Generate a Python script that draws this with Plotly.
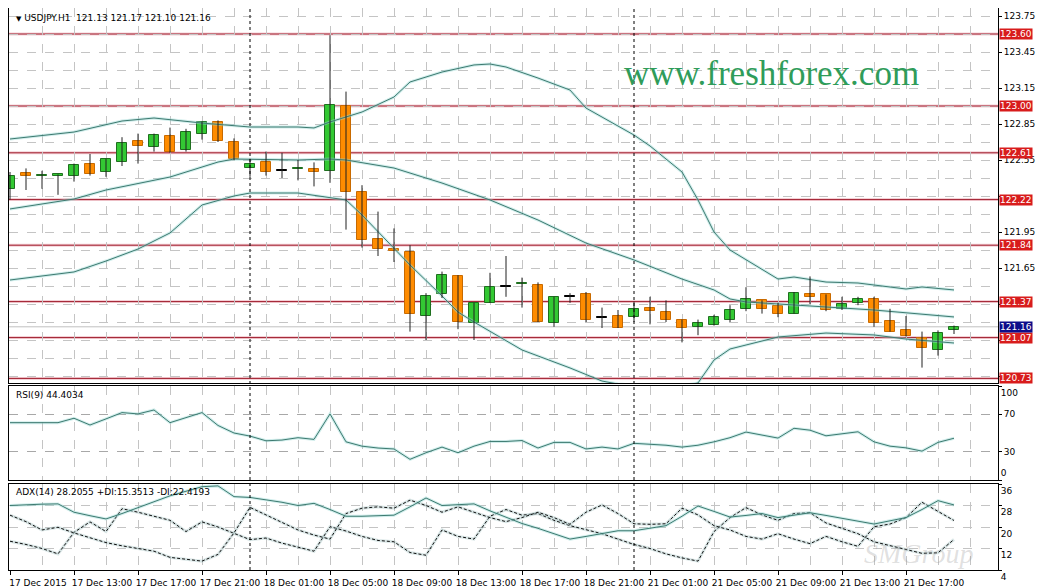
import plotly.graph_objects as go

# ---------------- data ----------------
day_spans = [("17 Dec", 9, 23), ("18 Dec", 0, 23), ("21 Dec", 0, 20)]
year_label = "17 Dec 2015"

opens = [122.31, 122.44, 122.415, 122.415, 122.42, 122.52, 122.45, 122.53, 122.71, 122.66,
         122.75, 122.63, 122.77, 122.87, 122.70, 122.48, 122.53, 122.46, 122.475, 122.475,
         122.46, 123.00, 122.28, 121.89, 121.81, 121.78, 121.25, 121.43, 121.58, 121.19,
         121.36, 121.49, 121.515, 121.51, 121.19, 121.41, 121.43, 121.235, 121.25, 121.24,
         121.32, 121.28, 121.22, 121.16, 121.175, 121.22, 121.31, 121.38, 121.33, 121.27,
         121.43, 121.43, 121.31, 121.36, 121.39, 121.21, 121.13, 121.07, 120.97, 121.13]
highs = [122.45, 122.48, 122.46, 122.43, 122.52, 122.60, 122.56, 122.74, 122.77, 122.77,
         122.82, 122.81, 122.87, 122.88, 122.73, 122.56, 122.62, 122.61, 122.55, 122.53,
         123.59, 123.12, 122.34, 122.12, 121.98, 121.84, 121.44, 121.62, 121.59, 121.36,
         121.61, 121.75, 121.57, 121.53, 121.41, 121.44, 121.45, 121.32, 121.30, 121.37,
         121.41, 121.38, 121.22, 121.22, 121.26, 121.34, 121.49, 121.38, 121.36, 121.45,
         121.58, 121.43, 121.41, 121.41, 121.41, 121.31, 121.25, 121.12, 121.13, 121.17]
lows = [122.22, 122.30, 122.31, 122.26, 122.37, 122.42, 122.41, 122.50, 122.52, 122.62,
        122.61, 122.62, 122.72, 122.70, 122.55, 122.41, 122.42, 122.40, 122.38, 122.33,
        122.36, 121.97, 121.82, 121.75, 121.70, 121.12, 121.05, 121.40, 121.14, 121.05,
        121.36, 121.41, 121.32, 121.20, 121.16, 121.36, 121.20, 121.15, 121.15, 121.20,
        121.18, 121.20, 121.03, 121.09, 121.17, 121.20, 121.29, 121.27, 121.24, 121.27,
        121.35, 121.29, 121.30, 121.34, 121.16, 121.12, 121.08, 120.82, 120.92, 121.10]
closes = [122.42, 122.42, 122.42, 122.43, 122.51, 122.43, 122.56, 122.69, 122.67, 122.76,
          122.62, 122.78, 122.87, 122.71, 122.56, 122.52, 122.45, 122.46, 122.48, 122.45,
          123.01, 122.28, 121.88, 121.81, 121.79, 121.27, 121.42, 121.59, 121.20, 121.36,
          121.49, 121.49, 121.52, 121.20, 121.41, 121.41, 121.22, 121.235, 121.15, 121.31,
          121.29, 121.22, 121.15, 121.19, 121.24, 121.30, 121.39, 121.31, 121.27, 121.44,
          121.41, 121.30, 121.35, 121.39, 121.19, 121.12, 121.08, 120.98, 121.11, 121.16]

# Bollinger band vertices (candle index, price)
bb_upper_idx = [0, 4, 7, 9, 12, 14, 15, 18, 19, 20, 21, 22, 24, 25, 27, 29, 30, 31, 33, 35,
                36, 39, 40, 42, 43, 44, 45, 48, 49, 51, 53, 56, 57, 59]
bb_upper = [122.725, 122.783, 122.875, 122.90, 122.858, 122.833, 122.825, 122.825, 122.817,
            122.867, 122.908, 122.95, 123.075, 123.20, 123.283, 123.342, 123.35, 123.325,
            123.233, 123.133, 122.983, 122.758, 122.667, 122.45, 122.217, 121.95, 121.80,
            121.558, 121.575, 121.533, 121.525, 121.475, 121.492, 121.467]
bb_mid_idx = [0, 4, 6, 10, 13, 14, 18, 20, 21, 24, 27, 30, 33, 36, 39, 42, 44, 45, 46, 54, 59]
bb_mid = [122.142, 122.225, 122.30, 122.408, 122.533, 122.558, 122.55, 122.558, 122.55,
          122.483, 122.358, 122.217, 122.05, 121.858, 121.717, 121.558, 121.467, 121.392,
          121.367, 121.30, 121.242]
bb_lower_idx = [0, 4, 6, 8, 10, 12, 14, 15, 18, 20, 21, 22, 25, 27, 28, 29, 32, 35, 37, 38,
                40, 42, 43, 44, 45, 48, 51, 54, 56, 59]
bb_lower = [121.55, 121.617, 121.708, 121.808, 121.942, 122.175, 122.25, 122.275, 122.275,
            122.233, 122.217, 122.092, 121.675, 121.417, 121.283, 121.20, 120.967, 120.817,
            120.708, 120.683, 120.667, 120.667, 120.692, 120.883, 120.975, 121.075, 121.108,
            121.092, 121.058, 121.025]

rsi = [61, 61, 61, 61, 65.7, 58.5, 65.0, 71.7, 70.3, 74.5,
       61.0, 66.0, 71.7, 58.0, 50.0, 46.7, 41.7, 42.5, 45.0, 43.2,
       70.3, 40.6, 36.0, 34.0, 33.0, 22.0, 29.0, 35.0, 29.0, 36.0,
       41.0, 41.0, 42.0, 34.0, 40.0, 40.0, 33.0, 35.0, 33.0, 39.0,
       38.0, 37.0, 35.0, 37.0, 40.6, 45.0, 51.0, 48.0, 44.6, 55.0,
       53.0, 47.0, 49.0, 51.3, 40.6, 36.0, 34.2, 30.7, 40.0, 44.4034]
adx = [28.0, 28.3, 28.5, 28.6, 25.5, 24.2, 23.0, 25.0, 27.2, 29.4,
       31.6, 33.3, 35.0, 35.3, 31.3, 31.0, 30.2, 29.2, 28.0, 28.8,
       26.5, 24.0, 24.0, 24.2, 24.4, 27.5, 30.8, 28.0, 28.3, 28.6,
       26.0, 23.5, 21.3, 19.5, 17.5, 15.5, 16.5, 17.5, 18.6, 18.6,
       19.5, 20.5, 24.0, 27.8, 25.8, 23.7, 24.3, 25.0, 23.5, 24.4,
       25.3, 24.3, 23.2, 22.2, 21.1, 22.3, 23.5, 26.5, 29.8, 28.2055]
plus_di = [14.7, 13.5, 12.0, 10.0, 18.0, 21.9, 18.3, 26.8, 25.5, 24.0,
           22.5, 18.3, 21.9, 20.0, 17.7, 15.3, 15.9, 14.0, 12.5, 11.0,
           20.1, 18.5, 16.5, 15.0, 14.5, 10.5, 9.5, 18.9, 16.5, 15.5,
           24.0, 26.5, 24.4, 25.0, 22.5, 20.5, 19.0, 17.5, 15.5, 13.5,
           12.0, 10.0, 8.5, 7.3, 18.3, 23.5, 27.2, 24.5, 22.5, 25.0,
           25.3, 21.5, 19.5, 17.5, 14.5, 13.0, 11.6, 10.2, 10.4, 15.3513]
minus_di = [24.4, 22.0, 18.9, 19.9, 17.8, 16.0, 14.2, 13.0, 12.0, 11.0,
            8.7, 8.0, 7.3, 9.8, 17.8, 27.3, 24.4, 21.5, 18.9, 17.0,
            15.5, 25.0, 27.0, 27.5, 27.0, 30.0, 28.0, 25.5, 27.5, 25.5,
            23.5, 22.0, 23.5, 25.5, 23.5, 21.0, 25.5, 28.2, 25.0, 21.2,
            21.0, 21.2, 27.0, 24.5, 20.5, 18.9, 16.5, 15.5, 17.5, 15.5,
            13.8, 16.5, 14.5, 12.8, 20.1, 21.1, 23.5, 29.2, 25.9, 22.4193]

level_lines = [123.60, 123.00, 122.61, 122.22, 121.84, 121.37, 121.07, 120.73]
price_ticks = [123.75, 123.45, 123.15, 122.85, 122.55, 122.25, 121.95, 121.65, 121.35, 121.05, 120.75]
rsi_levels = [30, 70]
rsi_top, rsi_bottom = 100, 0
adx_ticks = [4, 12, 20, 28, 36]
symbol = "USDJPY.H1"
watermark = "www.freshforex.com"
corner_mark = "SMGroup"

# ---------------- derived ----------------
times = []
days_of = []
for day, h0, h1 in day_spans:
    for h in range(h0, h1 + 1):
        times.append(f"{day} {h:02d}:00")
        days_of.append(day)
n = len(closes)
idx = list(range(n))
label_idx = list(range(0, n, 4))
label_txt = [year_label if i == 0 else times[i] for i in label_idx]
separators = [i for i in range(1, n) if days_of[i] != days_of[i - 1]]
# price tick labels hidden under a level marker in the reference
price_txt = ["" if any(abs(t - lv) < 0.035 for lv in level_lines) else f"{t:.2f}" for t in price_ticks]

GREEN, ORANGE = "#33c933", "#ff8c00"
GREEN_E, ORANGE_E = "#1f6f1f", "#c86a00"
body_base, body_h, body_col, body_edge = [], [], [], []
for o, c in zip(opens, closes):
    body_base.append(min(o, c))
    body_h.append(max(abs(c - o), 0.006))
    if c > o:
        body_col.append(GREEN); body_edge.append(GREEN_E)
    elif c < o:
        body_col.append(ORANGE); body_edge.append(ORANGE_E)
    else:
        body_col.append("#000000"); body_edge.append("#000000")
wx, wy = [], []
for i, h, l in zip(idx, highs, lows):
    wx += [i, i, None]; wy += [l, h, None]

fig = go.Figure()
HALO = "rgba(150,215,210,0.45)"
LINEC = "#3d7a70"

for bi, bv in [(bb_upper_idx, bb_upper), (bb_mid_idx, bb_mid), (bb_lower_idx, bb_lower)]:
    fig.add_trace(go.Scatter(x=bi, y=bv, mode="lines", line=dict(color=HALO, width=3),
                             hoverinfo="skip", xaxis="x", yaxis="y"))
    fig.add_trace(go.Scatter(x=bi, y=bv, mode="lines", line=dict(color=LINEC, width=1),
                             xaxis="x", yaxis="y"))

fig.add_trace(go.Scatter(x=wx, y=wy, mode="lines", line=dict(color="#202020", width=1),
                         xaxis="x", yaxis="y", hoverinfo="skip"))
fig.add_trace(go.Bar(x=idx, y=body_h, base=body_base, width=0.64,
                     marker=dict(color=body_col, line=dict(color=body_edge, width=1)),
                     xaxis="x", yaxis="y"))

fig.add_trace(go.Scatter(x=idx, y=rsi, mode="lines", line=dict(color=HALO, width=3),
                         xaxis="x2", yaxis="y2", hoverinfo="skip"))
fig.add_trace(go.Scatter(x=idx, y=rsi, mode="lines", line=dict(color=LINEC, width=1),
                         xaxis="x2", yaxis="y2"))
# carriers for the RSI end labels (invisible)
fig.add_trace(go.Scatter(x=[idx[0]], y=[rsi[0]], mode="markers", marker=dict(opacity=0),
                         xaxis="x2", yaxis="y4", hoverinfo="skip"))
fig.add_trace(go.Scatter(x=[idx[0]], y=[rsi[0]], mode="markers", marker=dict(opacity=0),
                         xaxis="x2", yaxis="y5", hoverinfo="skip"))

for series, dash, col in [(plus_di, "3px,2px", "#111111"), (minus_di, "3px,2px", "#111111"),
                          (adx, "solid", LINEC)]:
    fig.add_trace(go.Scatter(x=idx, y=series, mode="lines",
                             line=dict(color="rgba(170,200,200,0.45)" if dash != "solid" else HALO, width=3),
                             xaxis="x3", yaxis="y3", hoverinfo="skip"))
    fig.add_trace(go.Scatter(x=idx, y=series, mode="lines", line=dict(color=col, width=1, dash=dash),
                             xaxis="x3", yaxis="y3"))

# ---------------- layout ----------------
# the page body adds an 8px offset; plot area sits at x 9..998, y 8..570 of the window
H_PLOT = 562.0
def dom(top_px, bot_px):
    return [(570 - bot_px) / H_PLOT, (570 - top_px) / H_PLOT]

GRID = "#c4c4c4"
TICKFONT = dict(family="DejaVu Sans", size=9, color="#000000")
xcommon = dict(range=[-0.0625, 61.75], tickmode="array", tickvals=label_idx, ticktext=label_txt,
               showgrid=True, gridcolor=GRID, griddash="dash", gridwidth=1,
               minor=dict(tickmode="linear", tick0=0, dtick=2, showgrid=True, gridcolor=GRID,
                          griddash="dash", ticks=""),
               showline=True, mirror=True, linecolor="#000000", linewidth=1, zeroline=False,
               fixedrange=True)
ycommon = dict(side="right", showline=True, mirror=True, linecolor="#000000", linewidth=1,
               zeroline=False, ticks="outside", ticklen=3, tickcolor="#000000",
               tickfont=TICKFONT, gridcolor=GRID, griddash="dash", fixedrange=True)
yover = dict(side="right", overlaying="y2", anchor="x2", showline=False, showgrid=False,
             zeroline=False, ticks="outside", ticklen=3, tickcolor="#000000", tickfont=TICKFONT,
             range=[0, 100], fixedrange=True, tickmode="array")

fig.update_layout(
    width=1038, height=580, margin=dict(l=1, r=48, t=0, b=18),
    paper_bgcolor="white", plot_bgcolor="white", showlegend=False, bargap=0,
    font=dict(family="DejaVu Sans", size=9, color="#000000"),
    xaxis=dict(xcommon, anchor="y", showticklabels=False, ticks=""),
    xaxis2=dict(xcommon, anchor="y2", matches="x", showticklabels=False, ticks=""),
    xaxis3=dict(xcommon, anchor="y3", matches="x", showticklabels=True, ticks="outside",
                ticklen=4, tickcolor="#000000", tickfont=TICKFONT, ticklabelshift=28,
                ticklabelstandoff=0),
    yaxis=dict(ycommon, domain=dom(8, 383), range=[120.6917, 123.8167], tickmode="array",
               tickvals=price_ticks, ticktext=price_txt, showgrid=True,
               minor=dict(tickmode="linear", tick0=price_ticks[0], dtick=0.15, showgrid=True,
                          gridcolor=GRID, griddash="dash", ticks="")),
    yaxis2=dict(ycommon, domain=dom(386, 480), range=[0, 100], tickmode="array",
                tickvals=rsi_levels, showgrid=True, gridcolor="#a8a8a8"),
    yaxis4=dict(yover, tickvals=[rsi_top], ticklabelposition="outside bottom"),
    yaxis5=dict(yover, tickvals=[rsi_bottom], ticklabelposition="outside top"),
    yaxis3=dict(ycommon, domain=dom(484, 570), range=[4, 36], tickmode="array",
                tickvals=adx_ticks, showgrid=True, ticklabelposition="outside bottom"),
)

shapes = []
for lv in level_lines:
    shapes.append(dict(type="line", xref="paper", x0=0, x1=1, yref="y", y0=lv, y1=lv,
                       line=dict(color="rgba(235,170,180,0.55)", width=3), layer="below"))
    shapes.append(dict(type="line", xref="paper", x0=0, x1=1, yref="y", y0=lv, y1=lv,
                       line=dict(color="#9e1a2a", width=1), layer="below"))
shapes.append(dict(type="line", xref="paper", x0=0, x1=1, yref="y", y0=closes[-1], y1=closes[-1],
                   line=dict(color="#c0c0c0", width=1), layer="below"))
for s in separators:
    shapes.append(dict(type="line", xref="x", x0=s, x1=s, yref="paper", y0=0, y1=1,
                       line=dict(color="#000000", width=1, dash="3px,3px"), layer="above"))
fig.update_layout(shapes=shapes)

ann = []
for lv in level_lines:
    ann.append(dict(xref="paper", x=1, xanchor="left", xshift=1, yref="y", y=lv, yanchor="middle",
                    text=f"{lv:.2f}", showarrow=False, bgcolor="#d81c1c", borderpad=0,
                    font=dict(family="DejaVu Sans", size=9, color="white")))
ann.append(dict(xref="paper", x=1, xanchor="left", xshift=1, yref="y", y=closes[-1], yanchor="middle",
                text=f"{closes[-1]:.2f}", showarrow=False, bgcolor="#0d0d8a", borderpad=0,
                font=dict(family="DejaVu Sans", size=9, color="white")))
ann.append(dict(xref="paper", x=0, xanchor="left", xshift=5, yref="paper", y=1, yanchor="top", yshift=-3,
                text=f"<span style='font-size:7px'>▼</span> {symbol}  {opens[-1]:.2f} {highs[-1]:.2f} "
                     f"{lows[-1]:.2f} {closes[-1]:.2f}",
                showarrow=False, font=TICKFONT))
ann.append(dict(xref="paper", x=0, xanchor="left", xshift=5, yref="y2 domain", y=1, yanchor="top",
                yshift=-2, text=f"RSI(9) {rsi[-1]:.4f}", showarrow=False, font=TICKFONT))
ann.append(dict(xref="paper", x=0, xanchor="left", xshift=5, yref="y3 domain", y=1, yanchor="top",
                yshift=-1, text=f"ADX(14) {adx[-1]:.4f} +DI:{plus_di[-1]:.4f} -DI:{minus_di[-1]:.4f}",
                showarrow=False, font=TICKFONT))
ann.append(dict(xref="paper", x=(771 - 9) / 989, yref="paper", y=(570 - 74) / H_PLOT,
                xanchor="center", yanchor="middle", text=watermark, showarrow=False,
                font=dict(family="Liberation Serif", size=35, color="#2f9c5a")))
ann.append(dict(xref="paper", x=(918 - 9) / 989, yref="paper", y=(570 - 553) / H_PLOT,
                xanchor="center", yanchor="middle", text=corner_mark, showarrow=False,
                font=dict(family="Liberation Serif", size=28, color="rgba(150,150,150,0.30)",
                          style="italic")))
fig.update_layout(annotations=ann)

fig.write_html("out.html")
